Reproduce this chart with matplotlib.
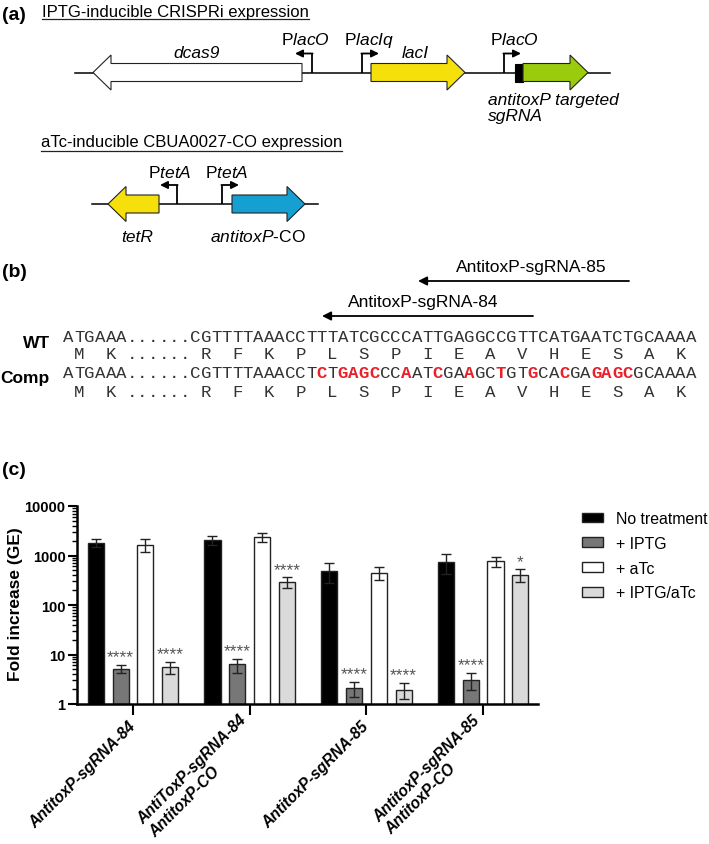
import matplotlib
matplotlib.use("Agg")
import matplotlib.pyplot as plt
from matplotlib.patches import Polygon, Rectangle, Patch
from matplotlib.transforms import ScaledTranslation
import numpy as np

plt.rcParams['font.family'] = ['Liberation Sans', 'DejaVu Sans']
plt.rcParams['mathtext.fontset'] = 'custom'
plt.rcParams['mathtext.rm'] = 'Liberation Sans'
plt.rcParams['mathtext.it'] = 'Liberation Sans:italic'
plt.rcParams['mathtext.bf'] = 'Liberation Sans:bold'

# ---- panel (c) data ----
groups = ['AntitoxP-sgRNA-84', 'AntiToxP-sgRNA-84\nAntitoxP-CO',
          'AntitoxP-sgRNA-85', 'AntitoxP-sgRNA-85\nAntitoxP-CO']
treatments = ['No treatment', '+ IPTG', '+ aTc', '+ IPTG/aTc']
bar_colors = ['#000000', '#777777', '#ffffff', '#dadada']
no_treat = [1820, 2050, 490, 750]
no_treat_sd = [310, 450, 210, 330]
iptg = [5.2, 6.3, 2.1, 3.1]
iptg_sd = [1.0, 2.0, 0.7, 1.2]
atc = [1650, 2350, 450, 760]
atc_sd = [480, 500, 130, 180]
iptg_atc = [5.6, 295, 1.95, 410]
iptg_atc_sd = [1.5, 70, 0.7, 120]
stars_iptg = ['****', '****', '****', '****']
stars_iptg_atc = ['****', '****', '****', '*']

# ---- panel (b) data ----
wt_seq = 'ATGAAA......CGTTTTAAACCTTTATCGCCCATTGAGGCCGTTCATGAATCTGCAAAA'
comp_seq = 'ATGAAA......CGTTTTAAACCTCTGAGCCCAATCGAAGCTGTGCACGAGAGCGCAAAA'
aa_seq = ' M  K ...... R  F  K  P  L  S  P  I  E  A  V  H  E  S  A  K '

W, H = 709, 845
fig = plt.figure(figsize=(W / 100, H / 100), dpi=100)

# overlay axes in pixel coordinates for the schematic panels
ov = fig.add_axes([0, 0, 1, 1], zorder=0)
ov.set_xlim(0, W)
ov.set_ylim(H, 0)
ov.axis('off')

def gene(x_tail, x_tip, y, color, head_len=18, body_h=18, head_h=35):
    d = 1 if x_tip > x_tail else -1
    xh = x_tip - d * head_len
    pts = [(x_tail, y - body_h / 2), (xh, y - body_h / 2), (xh, y - head_h / 2),
           (x_tip, y), (xh, y + head_h / 2), (xh, y + body_h / 2), (x_tail, y + body_h / 2)]
    ov.add_patch(Polygon(pts, closed=True, fc=color, ec='#222222', lw=0.8, zorder=3))

def promoter(x, y, direction, label, lx, ly, h=19, arm=17):
    ov.plot([x, x], [y, y - h], color='black', lw=1.3, zorder=4, solid_capstyle='butt')
    ov.annotate('', xy=(x + direction * arm, y - h), xytext=(x - direction * 0.6, y - h),
                arrowprops=dict(arrowstyle='-|>', color='black', lw=1.3,
                                mutation_scale=11, shrinkA=0, shrinkB=0), zorder=4)
    ov.text(lx, ly, label, ha='center', va='center', fontsize=12.5)

# ---- panel (a) ----
ov.text(2, 15, '(a)', fontsize=14, fontweight='bold', va='center')
titles = [ov.text(42, 12, 'IPTG-inducible CRISPRi expression', fontsize=12, va='center'),
          ov.text(41, 143, 'aTc-inducible CBUA0027-CO expression', fontsize=12, va='center')]

ov.plot([75, 610], [73.5, 73.5], color='black', lw=1.1, zorder=1)
gene(302, 93, 73.5, 'white')
gene(371, 465, 73.5, '#f5e00b')
ov.add_patch(Rectangle((515, 64.5), 8, 18, fc='black', ec='black', lw=0.8, zorder=3))
gene(523, 588, 73.5, '#9acb0d')
promoter(312, 73.5, -1, r'P$\mathit{lacO}$', 305, 40)
promoter(362, 73.5, 1, r'P$\mathit{lacIq}$', 369, 40)
promoter(504, 73.5, 1, r'P$\mathit{lacO}$', 514, 40)
ov.text(197, 54, 'dcas9', style='italic', fontsize=12.5, ha='center', va='center')
ov.text(415, 53, 'lacI', style='italic', fontsize=12.5, ha='center', va='center')
ov.text(488, 100, 'antitoxP targeted', style='italic', fontsize=12.5, ha='left', va='center')
ov.text(488, 117, 'sgRNA', style='italic', fontsize=12.5, ha='left', va='center')

ov.plot([92, 318], [205, 205], color='black', lw=1.1, zorder=1)
gene(159, 108, 205, '#f5e00b')
gene(232, 305, 205, '#169fd1')
promoter(177, 205, -1, r'P$\mathit{tetA}$', 170, 173)
promoter(222, 205, 1, r'P$\mathit{tetA}$', 227, 173)
ov.text(137, 237, 'tetR', style='italic', fontsize=12.5, ha='center', va='center')
ov.text(258, 237, r'$\mathit{antitoxP}$-CO', fontsize=12.5, ha='center', va='center')

# ---- panel (b) ----
ov.text(2, 273, '(b)', fontsize=14, fontweight='bold', va='center')
for x0, x1, y, lab, ly, lx in [(629, 418, 282, 'AntitoxP-sgRNA-85', 268, 531),
                               (533, 322, 317, 'AntitoxP-sgRNA-84', 303, 423)]:
    ov.annotate('', xy=(x1, y), xytext=(x0, y),
                arrowprops=dict(arrowstyle='-|>', color='black', lw=1.3,
                                mutation_scale=13, shrinkA=0, shrinkB=0))
    ov.text(lx, ly, lab, fontsize=12.5, ha='center', va='center')

seq_x0, cw = 63.3, 10.55
def seq_row(s, y, ref=None):
    for i, ch in enumerate(s):
        if ch == ' ':
            continue
        red = ref is not None and ch != ref[i]
        ov.text(seq_x0 + (i + 0.5) * cw, y, ch, family='Liberation Mono', fontsize=12.5,
                ha='center', va='center', color='#e8202a' if red else '#333333',
                fontweight='bold' if red else 'normal')

seq_row(wt_seq, 338)
seq_row(aa_seq, 355)
seq_row(comp_seq, 374, ref=wt_seq)
seq_row(aa_seq, 393)
ov.text(37, 344, 'WT', fontsize=12.5, fontweight='bold', ha='center', va='center')
ov.text(25, 379, 'Comp', fontsize=12.5, fontweight='bold', ha='center', va='center')

ov.text(2, 471, '(c)', fontsize=14, fontweight='bold', va='center')

# ---- panel (c) bar chart ----
ax = fig.add_axes([77.3 / W, 1 - 705 / H, (538 - 77.3) / W, (705 - 507) / H], zorder=2)
ax.patch.set_alpha(0)
x = np.arange(len(groups))
offsets = [-0.319, -0.106, 0.106, 0.319]
width = 0.138
series = [(no_treat, no_treat_sd), (iptg, iptg_sd), (atc, atc_sd), (iptg_atc, iptg_atc_sd)]
for k, (vals, sd) in enumerate(series):
    ax.bar(x + offsets[k], vals, width, color=bar_colors[k], edgecolor='#222222', lw=1.0,
           label=treatments[k], zorder=2)
    ax.errorbar(x + offsets[k], vals, yerr=sd, fmt='none', ecolor='#222222', elinewidth=1.0,
                capsize=3.5, capthick=1.0, zorder=3)

for k, stars in [(1, stars_iptg), (3, stars_iptg_atc)]:
    vals, sd = series[k]
    for i in range(len(groups)):
        ax.text(x[i] + offsets[k], (vals[i] + sd[i]) * 1.02, stars[i], ha='center', va='bottom',
                fontsize=12.5, color='#555555')

ax.set_yscale('log')
ax.set_ylim(1, 10000)
ax.set_xlim(-0.477, 3.47)
ax.set_yticks([1, 10, 100, 1000, 10000])
ax.set_yticklabels(['1', '10', '100', '1000', '10000'], fontweight='bold', fontsize=10.5)
ax.set_xticks(x)
ax.set_xticklabels(groups, rotation=45, ha='right', rotation_mode='anchor', va='center',
                   fontweight='bold', style='italic', fontsize=11.2, multialignment='left')
for lab in ax.get_xticklabels():
    lab.set_transform(lab.get_transform() + ScaledTranslation(-4 / 100, 0, fig.dpi_scale_trans))
ax.tick_params(axis='x', length=8, width=1.5, pad=6)
ax.tick_params(axis='y', which='major', length=6.5, width=1.5, pad=2)
ax.tick_params(axis='y', which='minor', length=3.5, width=1.0)
for s in ['top', 'right']:
    ax.spines[s].set_visible(False)
for s in ['left', 'bottom']:
    ax.spines[s].set_linewidth(1.8)
ax.set_ylabel('Fold increase (GE)', fontweight='bold', fontsize=12.5)
ax.yaxis.set_label_coords((23 - 77.3) / (538 - 77.3), (705 - 604) / 198)

handles = [Patch(facecolor=c, edgecolor='#222222', lw=1.0) for c in bar_colors]
fig.legend(handles, treatments, loc='upper left', bbox_to_anchor=(582 / W, 1 - 512 / H),
           frameon=False, fontsize=11.4, handlelength=1.3, handleheight=0.55,
           handletextpad=0.85, labelspacing=0.62, borderpad=0, borderaxespad=0)

# underline the section titles
fig.canvas.draw()
inv = ov.transData.inverted()
for t in titles:
    bb = t.get_window_extent()
    (xa, ya), (xb, yb) = inv.transform([(bb.x0, bb.y0), (bb.x1, bb.y1)])
    ov.plot([xa, xb], [ya + 1, ya + 1], color='#222222', lw=0.9)

fig.savefig('out.png', dpi=100)
